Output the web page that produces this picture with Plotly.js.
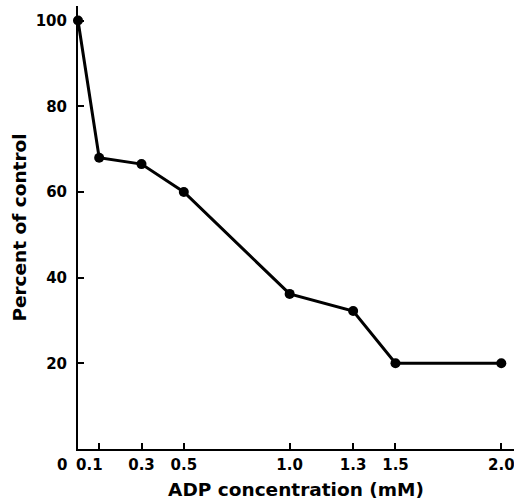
<!DOCTYPE html>
<html>
<head>
<meta charset="utf-8">
<script src="https://cdn.plot.ly/plotly-3.0.1.min.js"></script>
<style>html,body{margin:0;padding:0;background:#fff;}#chart{width:514px;height:503px;}</style>
</head>
<body>
<div id="chart"></div>
<script>
// ADP concentration (mM)
const adpConcentration = [0, 0.1, 0.3, 0.5, 1.0, 1.3, 1.5, 2.0];
// Percent of control
const percentOfControl = [100, 68, 66.5, 60, 36.2, 32.2, 20, 20];
const xTickVals = [0, 0.1, 0.3, 0.5, 1.0, 1.3, 1.5, 2.0];
const xTickText = ['0', '0.1', '0.3', '0.5', '1.0', '1.3', '1.5', '2.0'];
const yTickVals = [20, 40, 60, 80, 100];

const font = {family: 'DejaVu Sans', size: 15, color: '#000', weight: 'bold'};
const titleFont = {family: 'DejaVu Sans', size: 18.5, color: '#000', weight: 'bold'};

// the first two labels sit left of their ticks in the original; draw them as shifted annotations
const shiftedLabels = [0, 1].map((i, k) => ({
  x: xTickVals[i], xref: 'x', y: 0, yref: 'paper',
  yanchor: 'top', yshift: -5, xshift: k === 0 ? -16 : -10,
  text: xTickText[i], showarrow: false, font: font
}));
const axisText = xTickText.map((t, i) => i < 2 ? '' : t);

Plotly.newPlot('chart', [{
  x: adpConcentration,
  y: percentOfControl,
  mode: 'lines+markers',
  line: {color: '#000', width: 3},
  marker: {color: '#000', size: 10},
  cliponaxis: false,
  hoverinfo: 'none'
}], {
  width: 514, height: 503,
  margin: {l: 78, r: 0, t: 6, b: 54},
  paper_bgcolor: '#fff', plot_bgcolor: '#fff',
  showlegend: false,
  font: font,
  annotations: shiftedLabels,
  xaxis: {
    range: [0, 2.06], showgrid: false, zeroline: false,
    showline: true, linecolor: '#000', linewidth: 2,
    ticks: 'inside', ticklen: 6, tickwidth: 2, tickcolor: '#000',
    tickvals: xTickVals, ticktext: axisText, tickangle: 0,
    ticklabeloverflow: 'allow',
    tickfont: font, ticklabelstandoff: 1,
    title: {text: 'ADP concentration (mM)', font: titleFont, standoff: 10},
    automargin: false
  },
  yaxis: {
    range: [0, 103.4], showgrid: false, zeroline: false,
    showline: true, linecolor: '#000', linewidth: 2,
    ticks: 'inside', ticklen: 6, tickwidth: 2, tickcolor: '#000',
    tickvals: yTickVals,
    tickfont: font, ticklabelstandoff: 6,
    title: {text: 'Percent of control', font: titleFont, standoff: 4},
    automargin: false
  }
}, {displayModeBar: false, staticPlot: true});
</script>
</body>
</html>
